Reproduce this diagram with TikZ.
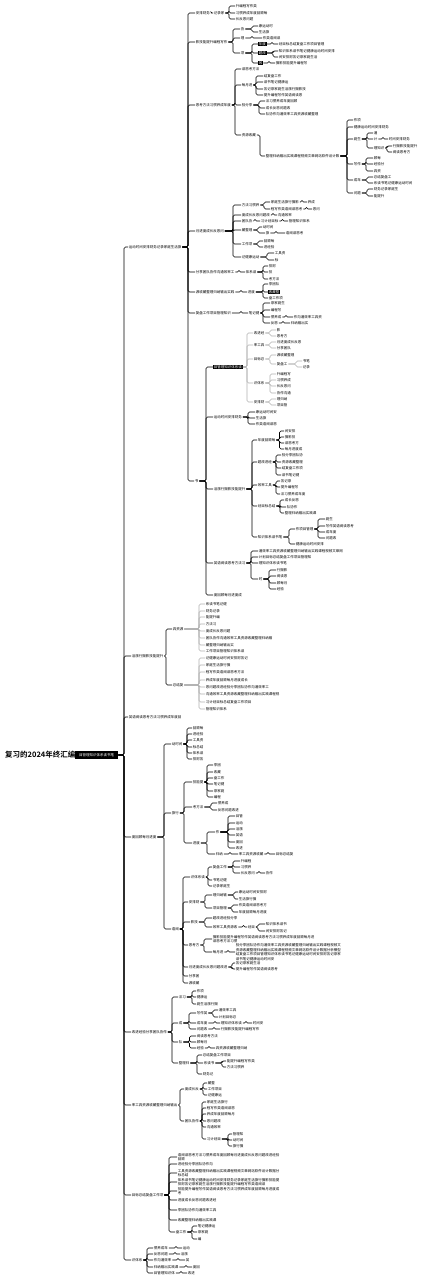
\documentclass[tikz,border=0pt]{standalone}
\usepackage{fontspec}
\newfontfamily\cjk{Noto Sans CJK SC}[BoldFont={Noto Sans CJK SC Bold}]
\usetikzlibrary{calc}
\newcount\fcK \newcount\fcS \newcount\fcC
\def\fcpool{学习计划目标总结复盘工作项目管理知识体系读书笔记健康运动时间安排财务记录家庭生活旅行摄影技能提升编程写作英语阅读思考方法习惯养成年度回顾每月进度成长反思问题改进经验分享团队协作沟通效率工具资源收藏整理归纳输出实践课程视频文章网站软件设计数据分析模型训练产品运营市场营销品牌用户需求体验优化测试发布上线维护}
\def\fcA#1{\ifx\relax#1\else\ifnum\fcS>0 \advance\fcS by -1 \else\ifnum\fcK>0 #1\advance\fcK by -1 \fi\fi\expandafter\fcA\fi}
\newcommand\fillch[1]{\pgfmathtruncatemacro\fcn{max(1,round((#1)/3.5))}\fcK=\fcn\relax
  \global\advance\fcC by 13 \ifnum\fcC>100 \global\advance\fcC by -100 \fi
  \fcS=\fcC\relax\expandafter\fcA\fcpool\relax}
\newcommand\lbn[5][]{\node[lbl,#1] (#2) at (#3,#4) {\fillch{#5}};}
\newcommand\brk[4][]{\foreach \kid in {#4}{\draw[conn,#1] let \p1=(#2.east) in (\p1) -- (#3pt,\y1) |- (\kid.west);}}
\begin{document}
\begin{tikzpicture}[x=1pt,y=-1pt,
  lbl/.style={anchor=west,inner xsep=0.7pt,inner ysep=0.3pt,font=\cjk\fontsize{3.5}{4.5}\selectfont},
  conn/.style={draw=black,line width=0.6pt,rounded corners=1.5pt},
  light/.style={draw=black!30},
  dark/.style={fill=black,text=white,inner ysep=0.7pt}]
\fill[white] (0,0) rectangle (424,1280);
\useasboundingbox (0,0) rectangle (424,1280);
% root
\node[anchor=west,inner sep=0,font=\cjk\bfseries\fontsize{7.5}{8}\selectfont] (root) at (5,755) {复习的2024年终汇编};
\node[anchor=west,fill=black,text=white,inner sep=0,minimum width=43pt,minimum height=8pt,font=\cjk\fontsize{3.5}{4}\selectfont] (tag) at (75,755) {\fillch{35}};
\draw[conn,shorten <=2pt,shorten >=2pt] (root) -- (tag);
\lbn{A}{128}{247}{52}\lbn{B}{131}{656}{30}\lbn{C}{128}{717}{54}\lbn{D}{131}{837}{24}
\lbn{E}{131}{1032}{34}\lbn{F}{131}{1105}{44}\lbn{G}{131}{1195}{31}\lbn{H}{131}{1260}{11}
\brk{tag}{124}{A,B,C,D,E,F,G,H}
% ---------- A
\lbn{A1}{195}{13}{13}\lbn{A2}{195}{42}{30}\lbn{A3}{195}{105}{34}\lbn{A4}{195}{231}{28}
\lbn{A5}{195}{272}{37}\lbn{A6}{195}{292}{37}\lbn{A7}{195}{313}{35}\lbn{A8}{194}{481}{3}
\brk{A}{188}{A1,A2,A3,A4,A5,A6,A7,A8}
\lbn{A1a}{213}{13}{9}\brk{A1}{210.5}{A1a}
\lbn{A1b}{235}{6}{20}\lbn{A1c}{235}{13}{30}\lbn{A1d}{235}{19}{17}\brk{A1a}{229}{A1b,A1c,A1d}
\lbn{A21}{240}{29}{5}\lbn{A22}{240}{38}{3}\lbn{A23}{240}{53}{5}\brk{A2}{233}{A21,A22,A23}
\lbn{A211}{258}{26}{15}\lbn{A212}{258}{32}{12}\brk{A21}{252}{A211,A212}
\lbn{A221}{262}{38}{18}\brk{A22}{252}{A221}
\lbn[dark]{A231}{258}{44}{7}\lbn[dark]{A232}{258}{53}{7}\lbn[dark]{A233}{258}{63}{4}\brk{A23}{252}{A231,A232,A233}
\lbn{A2311}{278}{44}{45}\brk{A231}{272}{A2311}
\lbn{A2321}{278}{51}{55}\lbn{A2322}{278}{57}{39}\brk{A232}{273}{A2321,A2322}
\lbn{A2331}{275}{63}{30}\brk{A233}{269}{A2331}
\lbn{A31}{241}{69}{17}\lbn{A32}{241}{85}{9}\lbn{A33}{241}{105}{11}\lbn{A34}{241}{135}{14}
\brk{A3}{235}{A31,A32,A33,A34}
\lbn{A321}{263}{76}{17}\lbn{A322}{263}{82}{24}\lbn{A323}{263}{89}{42}\lbn{A324}{263}{95}{37}
\brk{A32}{256}{A321,A322,A323,A324}
\lbn{A331}{265}{101}{30}\lbn{A332}{265}{108}{23}\lbn{A333}{265}{114}{53}\brk{A33}{259}{A331,A332,A333}
\lbn{A341}{265}{156}{75}\brk{A34}{260}{A341}
\lbn{P1}{353}{120}{7}\lbn{P2}{353}{127}{35}\lbn{P3}{353}{139}{7}\lbn{P4}{353}{164}{7}\lbn{P5}{353}{180}{7}\lbn{P6}{353}{193}{7}
\brk{A341}{347}{P1,P2,P3,P4,P5,P6}
\lbn{P31}{373}{133}{5}\lbn{P32}{373}{139}{4}\lbn{P33}{373}{148}{9}\brk{P3}{367}{P31,P32,P33}
\lbn{P321}{388}{139}{22}\brk{P32}{383}{P321}
\lbn{P331}{392}{146}{26}\lbn{P332}{392}{152}{16}\brk{P33}{387}{P331,P332}
\lbn{P41}{373}{158}{7}\lbn{P42}{373}{164}{9}\lbn{P43}{373}{171}{7}\brk{P4}{366}{P41,P42,P43}
\lbn{P51}{373}{177}{19}\lbn{P52}{373}{183}{37}\brk{P5}{367}{P51,P52}
\lbn{P61}{373}{189}{26}\lbn{P62}{373}{196}{12}\brk{P6}{367}{P61,P62}
\lbn{A41}{241}{205}{17}\lbn{A42}{241}{215}{27}\lbn{A43}{241}{221}{9}\lbn{A44}{241}{230}{11}\lbn{A45}{241}{244}{11}\lbn{A46}{241}{257}{19}
\brk{A4}{233}{A41,A42,A43,A44,A45,A46}
\lbn{A411}{270}{202}{27}\lbn{A412}{270}{209}{30}\brk{A41}{264}{A411,A412}
\lbn{A4111}{307}{202}{8}\brk{A411}{302}{A4111}
\lbn{A4121}{312}{209}{6}\brk{A412}{306.5}{A4121}
\lbn{A421}{277}{215}{13}\brk{A42}{273}{A421}
\lbn{A431}{260}{221}{17}\brk{A43}{255}{A431}
\lbn{A4311}{288}{221}{20}\brk{A431}{282.5}{A4311}
\lbn{A441}{262}{227}{10}\lbn{A442}{265}{233}{3}\brk{A44}{258}{A441,A442}
\lbn{A4421}{285}{233}{17}\brk{A442}{276}{A4421}
\lbn{A451}{263}{241}{10}\lbn{A452}{263}{247}{10}\brk{A45}{258}{A451,A452}
\lbn{A461}{274}{253}{9}\lbn{A462}{274}{260}{3}\brk{A46}{267}{A461,A462}
\lbn{A51}{245}{272}{12}\brk{A5}{239}{A51}
\lbn{A511}{268}{266}{7}\lbn{A512}{268}{272}{3}\lbn{A513}{268}{279}{9}\brk{A51}{263}{A511,A512,A513}
\lbn{A61}{247}{292}{7}\brk{A6}{241}{A61}
\lbn{A611}{268}{284}{11}\lbn[dark]{A612}{268}{292}{11}\lbn{A613}{268}{298}{13}\brk{A61}{263}{A611,A612,A613}
\lbn{A71}{248}{313}{9}\brk{A7}{241}{A71}
\lbn{A711}{270}{303}{15}\lbn{A712}{270}{310}{10}\lbn{A713}{270}{317}{10}\lbn{A714}{270}{323}{7}\brk{A71}{263}{A711,A712,A713,A714}
\lbn{A7131}{293}{317}{27}\brk{A713}{286}{A7131}
\lbn{A7141}{290}{323}{18}\brk{A714}{283}{A7141}
\lbn[dark]{A81}{213}{367}{27}\lbn{A82}{213}{417}{29}\lbn{A83}{213}{489}{32}\lbn{A84}{213}{563}{30}\lbn{A85}{213}{595}{29}
\brk{A8}{206}{A81,A82,A83,A84,A85}
\lbn{A811}{253}{333}{10}\lbn{A812}{253}{345}{10}\lbn{A813}{253}{359}{10}\lbn{A814}{253}{383}{10}\lbn{A815}{253}{402}{9}
\brk[light]{A81}{247}{A811,A812,A813,A814,A815}
\lbn{A8111}{276}{330}{4}\lbn{A8112}{276}{336}{10}\brk[light]{A811}{270}{A8111,A8112}
\lbn{A8121}{276}{342}{24}\lbn{A8122}{276}{348}{14}\brk[light]{A812}{270}{A8121,A8122}
\lbn{A8131}{276}{355}{17}\lbn{A8132}{276}{364}{11}\brk[light]{A813}{270}{A8131,A8132}
\lbn{A81321}{302}{361}{6}\lbn{A81322}{302}{367}{6}\brk[light]{A8132}{296}{A81321,A81322}
\lbn{A8141}{276}{374}{14}\lbn{A8142}{276}{380}{14}\lbn{A8143}{276}{386}{14}\lbn{A8144}{276}{393}{14}\brk[light]{A814}{270}{A8141,A8142,A8143,A8144}
\lbn{A8151}{276}{399}{10}\lbn{A8152}{276}{405}{10}\brk[light]{A815}{270}{A8151,A8152}
\lbn{A821}{255}{412}{22}\lbn{A822}{255}{418}{12}\lbn{A823}{255}{424}{22}\brk{A82}{248}{A821,A822,A823}
\lbn{A831}{257}{440}{18}\lbn{A832}{257}{462}{13}\lbn{A833}{257}{485}{13}\lbn{A834}{257}{506}{18}\lbn{A835}{257}{537}{25}
\brk{A83}{252}{A831,A832,A833,A834,A835}
\lbn{A8311}{284}{431}{11}\lbn{A8312}{284}{437}{11}\lbn{A8313}{284}{443}{13}\lbn{A8314}{284}{449}{16}\brk{A831}{279.5}{A8311,A8312,A8313,A8314}
\lbn{A8321}{281}{455}{20}\lbn{A8322}{281}{462}{20}\lbn{A8323}{281}{468}{20}\lbn{A8324}{281}{475}{18}\brk{A832}{276}{A8321,A8322,A8323,A8324}
\lbn{A8331}{280}{481}{10}\lbn{A8332}{280}{487}{18}\lbn{A8333}{280}{494}{25}\brk{A833}{276}{A8331,A8332,A8333}
\lbn{A8341}{284}{500}{13}\lbn{A8342}{286}{507}{11}\lbn{A8343}{284}{513}{31}\brk{A834}{280}{A8341,A8342,A8343}
\lbn{A8351}{295}{529}{17}\lbn{A8352}{295}{544}{27}\brk{A835}{289}{A8351,A8352}
\lbn{A83511}{325}{519}{7}\lbn{A83512}{325}{526}{28}\lbn{A83513}{325}{532}{10}\lbn{A83514}{325}{538}{12}\brk{A8351}{318}{A83511,A83512,A83513,A83514}
\lbn{A841}{258}{551}{85}\lbn{A842}{258}{557}{54}\lbn{A843}{258}{563}{27}\lbn{A844}{258}{579}{5}\brk{A84}{251}{A841,A842,A843,A844}
\lbn{A8441}{276}{570}{10}\lbn{A8442}{276}{576}{10}\lbn{A8443}{276}{583}{10}\lbn{A8444}{276}{589}{7}\brk{A844}{269}{A8441,A8442,A8443,A8444}
% ---------- B
\lbn{B1}{172}{629}{10}\lbn{B2}{172}{685}{10}\brk{B}{166}{B1,B2}
\lbn{B11}{205}{604}{21}\lbn{B12}{205}{611}{13}\lbn{B13}{205}{617}{13}\lbn{B14}{205}{624}{10}
\lbn{B15}{205}{631}{23}\lbn{B16}{205}{638}{66}\lbn{B17}{205}{645}{28}\lbn{B18}{205}{651}{40}
\brk[light]{B1}{199}{B11,B12,B13,B14,B15,B16,B17,B18}
\lbn{B21}{205}{658}{43}\lbn{B22}{205}{665}{26}\lbn{B23}{205}{672}{40}\lbn{B24}{205}{680}{43}
\lbn{B25}{205}{687}{63}\lbn{B26}{205}{694}{73}\lbn{B27}{205}{702}{45}\lbn{B28}{205}{709}{21}
\brk[light]{B2}{199}{B21,B22,B23,B24,B25,B26,B27,B28}
% ---------- D
\lbn{D1}{171}{744}{9}\lbn{D2}{171}{813}{7}\lbn{D3}{171}{929}{6}\brk{D}{164}{D1,D2,D3}
\lbn{D11}{192}{728}{12}\lbn{D12}{192}{734}{12}\lbn{D13}{192}{740}{12}\lbn{D14}{192}{747}{12}\lbn{D15}{192}{753}{12}\lbn{D16}{192}{759}{12}
\brk{D1}{187}{D11,D12,D13,D14,D15,D16}
\lbn{D21}{192}{782}{10}\lbn{D22}{192}{807}{11}\lbn{D23}{192}{843}{8}\brk{D2}{184}{D21,D22,D23}
\lbn{D211}{213}{765}{6}\lbn{D212}{213}{772}{8}\lbn{D213}{213}{778}{12}\lbn{D214}{213}{784}{12}\lbn{D215}{213}{791}{10}\lbn{D216}{213}{797}{8}
\brk{D21}{207}{D211,D212,D213,D214,D215,D216}
\lbn{D221}{217}{803}{10}\lbn{D222}{217}{810}{21}\brk{D22}{211}{D221,D222}
\lbn{D231}{215}{832}{5}\lbn{D232}{215}{854}{8}\brk{D23}{207}{D231,D232}
\lbn{D2311}{235}{816}{7}\lbn{D2312}{235}{823}{7}\lbn{D2313}{235}{829}{7}\lbn{D2314}{235}{835}{7}\lbn{D2315}{235}{842}{7}\lbn{D2316}{235}{848}{7}
\brk{D231}{228}{D2311,D2312,D2313,D2314,D2315,D2316}
\lbn{D2321}{238}{854}{24}\brk{D232}{230}{D2321}
\lbn{D23211}{275}{854}{18}\brk{D2321}{268}{D23211}
\lbn{D31}{190}{877}{13}\lbn{D32}{188}{902}{10}\lbn{D33}{190}{922}{8}\lbn{D34}{188}{945}{9}\lbn{D35}{188}{967}{39}\lbn{D36}{188}{976}{10}\lbn{D37}{188}{983}{12}
\brk{D3}{183}{D31,D32,D33,D34,D35,D36,D37}
\lbn{D311}{212}{867}{13}\lbn{D312}{212}{880}{13}\lbn{D313}{212}{886}{16}\brk{D31}{208}{D311,D312,D313}
\lbn{D3111}{240}{861}{10}\lbn{D3112}{240}{867}{10}\lbn{D3113}{240}{873}{13}\brk{D311}{233}{D3111,D3112,D3113}
\lbn{D31131}{265}{873}{8}\brk{D3113}{259}{D31131}
\lbn{D321}{212}{895}{15}\lbn{D322}{212}{908}{13}\brk{D32}{205}{D321,D322}
\lbn{D3211}{238}{892}{27}\lbn{D3212}{238}{899}{19}\brk{D321}{234}{D3211,D3212}
\lbn{D3221}{238}{905}{29}\lbn{D3222}{238}{912}{29}\brk{D322}{232}{D3221,D3222}
\lbn{D331}{212}{918}{25}\lbn{D332}{212}{927}{26}\brk{D33}{205}{D331,D332}
\lbn{D3321}{247}{927}{6}\brk{D332}{243.5}{D3321}
\lbn{D33211}{265}{924}{22}\lbn{D33212}{265}{931}{20}\brk{D3321}{258}{D33211,D33212}
\node[lbl,align=left] (D341) at (212,939) {\fillch{101}\\\fillch{26}};
\lbn{D342}{212}{952}{10}\brk{D34}{204}{D341,D342}
\node[lbl,align=left] (D3421) at (235,952) {\fillch{105}\\\fillch{105}\\\fillch{105}\\\fillch{38}};
\brk{D342}{228}{D3421}
\lbn{D351}{235}{963}{25}\lbn{D352}{235}{969}{43}\brk{D35}{232}{D351,D352}
% ---------- E
\lbn{E1}{178}{997}{7}\lbn{E2}{178}{1023}{4}\lbn{E3}{178}{1042}{5}\lbn{E4}{178}{1063}{12}\brk{E}{172}{E1,E2,E3,E4}
\lbn{E11}{196}{991}{8}\lbn{E12}{196}{997}{10}\lbn{E13}{196}{1004}{21}\brk{E1}{192}{E11,E12,E13}
\lbn{E21}{196}{1013}{11}\lbn{E22}{196}{1023}{12}\lbn{E23}{196}{1029}{11}\brk{E2}{189}{E21,E22,E23}
\lbn{E211}{218}{1010}{19}\lbn{E212}{218}{1017}{17}\brk{E21}{213}{E211,E212}
\lbn{E221}{220}{1023}{20}\brk{E22}{215}{E221}
\lbn{E2211}{252}{1023}{11}\brk{E221}{246}{E2211}
\lbn{E231}{220}{1029}{38}\brk{E23}{214}{E231}
\lbn{E31}{196}{1036}{22}\lbn{E32}{196}{1042}{12}\lbn{E33}{196}{1048}{6}\brk{E3}{189.5}{E31,E32,E33}
\lbn{E331}{215}{1048}{30}\brk{E33}{209}{E331}
\lbn{E41}{202}{1055}{28}\lbn{E42}{203}{1063}{12}\lbn{E43}{202}{1074}{11}\brk{E4}{197}{E41,E42,E43}
\lbn{E421}{226}{1061}{27}\lbn{E422}{226}{1067}{18}\brk{E42}{222}{E421,E422}
% ---------- F
\lbn{F1}{184}{1089}{13}\lbn{F2}{184}{1121}{13}\brk{F}{180}{F1,F2}
\lbn{F11}{207}{1083}{8}\lbn{F12}{207}{1089}{13}\lbn{F13}{207}{1095}{13}\brk{F1}{203}{F11,F12,F13}
\lbn{F21}{206}{1102}{20}\lbn{F22}{206}{1108}{27}\lbn{F23}{206}{1114}{27}\lbn{F24}{206}{1121}{15}\lbn{F25}{206}{1127}{15}\lbn{F26}{206}{1139}{15}
\brk{F2}{202}{F21,F22,F23,F24,F25,F26}
\lbn{F261}{232}{1134}{11}\lbn{F262}{232}{1140}{11}\lbn{F263}{232}{1146}{11}\brk{F26}{228}{F261,F262,F263}
% ---------- G
\node[lbl,align=left] (G1) at (177,1157) {\fillch{101}\\\fillch{6}};
\lbn{G2}{177}{1164}{35}
\node[lbl,align=left] (G3) at (177,1173) {\fillch{101}\\\fillch{12}};
\node[lbl,align=left] (G4) at (177,1182) {\fillch{101}\\\fillch{88}};
\node[lbl,align=left] (G5) at (177,1191) {\fillch{101}\\\fillch{3}};
\lbn{G6}{177}{1200}{40}\lbn{G7}{177}{1210}{38}\lbn{G8}{177}{1220}{40}\lbn{G9}{175}{1232}{10}
\brk{G}{169}{G1,G2,G3,G4,G5,G6,G7,G8,G9}
\lbn{G91}{197}{1226}{16}\lbn{G92}{197}{1232}{11}\lbn{G93}{197}{1239}{5}\brk{G9}{192}{G91,G92,G93}
% ---------- H
\lbn{H1}{153}{1248}{15}\lbn{H2}{153}{1254}{15}\lbn{H3}{153}{1260}{17}\lbn{H4}{153}{1267}{25}\lbn{H5}{153}{1273}{20}
\brk{H}{147}{H1,H2,H3,H4,H5}
\lbn{H11}{182}{1248}{6}\brk{H1}{176}{H11}
\lbn{H21}{180}{1254}{7}\brk{H2}{175}{H21}
\lbn{H31}{185}{1260}{5}\brk{H3}{178}{H31}
\lbn{H41}{192}{1267}{6}\brk{H4}{186}{H41}
\lbn{H51}{187}{1273}{6}\brk{H5}{181}{H51}
\end{tikzpicture}
\end{document}
